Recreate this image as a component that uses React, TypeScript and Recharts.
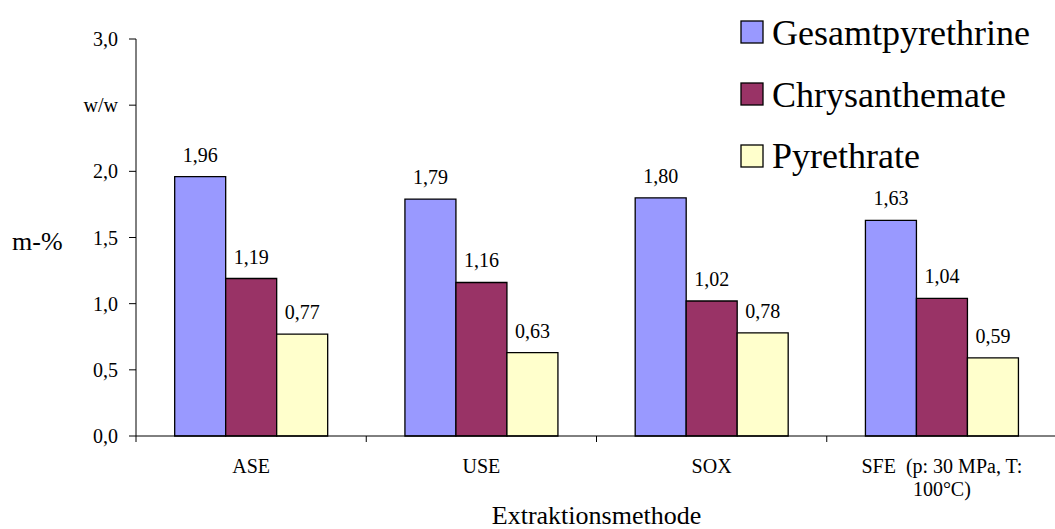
import React from 'react';
import { BarChart, Bar, XAxis, YAxis, Legend, LabelList, Label } from 'recharts';

const categories = ['ASE', 'USE', 'SOX', 'SFE  (p: 30 MPa, T: 100°C)'];
const categoryLabelLines = [['ASE'], ['USE'], ['SOX'], ['SFE  (p: 30 MPa, T:', '100°C)']];
const gesamtpyrethrine = [1.96, 1.79, 1.8, 1.63];
const chrysanthemate = [1.19, 1.16, 1.02, 1.04];
const pyrethrate = [0.77, 0.63, 0.78, 0.59];
const yTicks = [0, 0.5, 1, 1.5, 2, 2.5, 3];
const seriesNames = ['Gesamtpyrethrine', 'Chrysanthemate', 'Pyrethrate'];
const seriesColors = ['#9999FF', '#993366', '#FFFFCC'];

const data = categories.map((c, i) => ({
  name: c,
  g: gesamtpyrethrine[i],
  c: chrysanthemate[i],
  p: pyrethrate[i],
}));

const FONT = "'Liberation Serif', 'Times New Roman', 'DejaVu Serif', serif";
const textStyle = { fontFamily: FONT };

const fmt = (v: any) => Number(v).toFixed(2).replace('.', ',');
const yFmt = (v: number) => (v === 2.5 ? 'w/w' : v.toFixed(1).replace('.', ','));

const XTick = (props: any) => {
  const { x, y, payload, index } = props;
  const half = payload && payload.offset ? payload.offset : 115;
  const lines = categoryLabelLines[index] || [String(payload.value)];
  return (
    <g>
      <line x1={x - half} y1={y} x2={x - half} y2={y + 6} stroke="#000" strokeWidth={1} />
      <text
        x={x}
        y={y + 37}
        textAnchor="middle"
        fontSize={20}
        fill="#000"
        style={{ fontFamily: FONT, whiteSpace: 'pre' }}
      >
        {lines.map((l: string, i: number) => (
          <tspan key={i} x={x} dy={i === 0 ? 0 : 23}>
            {l}
          </tspan>
        ))}
      </text>
    </g>
  );
};

const LegendContent = (props: any) => {
  const payload = [...(props.payload || [])].sort(
    (a: any, b: any) => seriesNames.indexOf(a.value) - seriesNames.indexOf(b.value)
  );
  return (
    <svg width={310} height={180} style={{ display: 'block' }}>
      {payload.map((e: any, i: number) => (
        <g key={i}>
          <rect
            x={1}
            y={11 + i * 62}
            width={22}
            height={22}
            fill={e.color}
            stroke="#000"
            strokeWidth={1.3}
          />
          <text x={32} y={35 + i * 61.5} fontSize={36} fill="#000" style={textStyle}>
            {e.value}
          </text>
        </g>
      ))}
    </svg>
  );
};

const MLabel = (props: any) => {
  const vb = props.viewBox || { x: 0, y: 39, width: 136, height: 397 };
  return (
    <text
      x={vb.x + 12}
      y={vb.y + vb.height / 2 + 4}
      fontSize={26}
      fill="#000"
      dominantBaseline="central"
      style={textStyle}
    >
      m-%
    </text>
  );
};

const XLabel = (props: any) => {
  const vb = props.viewBox || { x: 136, y: 436, width: 921, height: 93 };
  return (
    <text
      x={vb.x + vb.width / 2}
      y={vb.y + vb.height - 5}
      textAnchor="middle"
      fontSize={26}
      fill="#000"
      style={textStyle}
    >
      Extraktionsmethode
    </text>
  );
};

export default function App() {
  return (
    <div
      style={{
        position: 'absolute',
        left: 0,
        top: 0,
        width: 1055,
        height: 529,
        overflow: 'hidden',
        background: '#fff',
        fontFamily: FONT,
      }}
    >
      <BarChart
        width={1058}
        height={529}
        data={data}
        margin={{ top: 39, right: 1, left: 0, bottom: 0 }}
        barCategoryGap="16.8%"
        barGap={0}
        style={{ fontFamily: FONT }}
      >
        <XAxis
          dataKey="name"
          height={93}
          tickLine={false}
          tickSize={0}
          tickMargin={0}
          axisLine={{ stroke: '#000', strokeWidth: 1 }}
          tick={<XTick />}
          interval={0}
        >
          <Label content={<XLabel />} />
        </XAxis>
        <YAxis
          width={136}
          domain={[0, 3]}
          ticks={yTicks}
          interval={0}
          tickFormatter={yFmt}
          tickSize={7}
          tickMargin={11}
          axisLine={{ stroke: '#000', strokeWidth: 1 }}
          tickLine={{ stroke: '#000', strokeWidth: 1 }}
          tick={{ fontSize: 20, fill: '#000', style: textStyle }}
        >
          <Label content={<MLabel />} />
        </YAxis>
        <Legend
          layout="horizontal"
          verticalAlign="middle"
          align="center"
          content={<LegendContent />}
          wrapperStyle={{ position: 'absolute', left: 740, top: 10, width: 310, height: 180 }}
        />
        {['g', 'c', 'p'].map((k, i) => (
          <Bar
            key={k}
            dataKey={k}
            name={seriesNames[i]}
            fill={seriesColors[i]}
            stroke="#000"
            strokeWidth={1.3}
            isAnimationActive={false}
          >
            <LabelList
              dataKey={k}
              position="top"
              offset={15}
              formatter={fmt}
              fontSize={20}
              fill="#000"
              style={textStyle}
            />
          </Bar>
        ))}
      </BarChart>
    </div>
  );
}
